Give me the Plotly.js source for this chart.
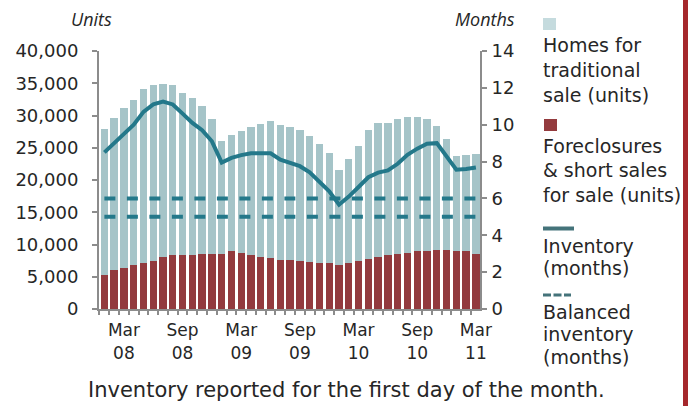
<!DOCTYPE html>
<html>
<head>
<meta charset="utf-8">
<script src="https://cdn.plot.ly/plotly-3.0.1.min.js"></script>
<style>html,body{margin:0;padding:0;background:#fff;}#chart{width:694px;height:406px;}</style>
</head>
<body>
<div id="chart"></div>
<script>
// ---- DATA ----
const months = [
  "Jan 08","Feb 08","Mar 08","Apr 08","May 08","Jun 08","Jul 08","Aug 08","Sep 08","Oct 08","Nov 08","Dec 08",
  "Jan 09","Feb 09","Mar 09","Apr 09","May 09","Jun 09","Jul 09","Aug 09","Sep 09","Oct 09","Nov 09","Dec 09",
  "Jan 10","Feb 10","Mar 10","Apr 10","May 10","Jun 10","Jul 10","Aug 10","Sep 10","Oct 10","Nov 10","Dec 10",
  "Jan 11","Feb 11","Mar 11"
];
// Foreclosures & short sales for sale (units)
const foreclosures = [
  5300,6000,6300,6800,7200,7400,8000,8400,8400,8450,8500,8600,
  8500,8950,8750,8450,8100,7950,7650,7550,7400,7250,7100,7100,
  6800,7150,7400,7700,8000,8350,8600,8750,9000,9000,9200,9150,
  8950,8950,8600
];
// Homes for traditional sale (units)
const traditional = [
  22600,23600,24900,25600,26900,27400,26950,26400,25050,24250,22900,20900,
  17600,18000,18850,19800,20600,21250,20950,20650,20300,19650,18500,17100,
  14700,16150,17800,20000,20900,20500,20850,21000,20700,20400,19100,17250,
  14750,14950,15400
];
// Inventory (months)
const inventory = [
  8.5,9.0,9.5,10.0,10.7,11.1,11.25,11.1,10.6,10.1,9.7,9.1,
  7.95,8.2,8.35,8.45,8.45,8.45,8.1,7.92,7.75,7.42,6.92,6.38,
  5.66,6.1,6.62,7.15,7.4,7.52,7.88,8.37,8.7,8.97,9.0,8.28,
  7.56,7.6,7.68
];
// Balanced inventory band (months)
const balancedLow = 5;
const balancedHigh = 6;
const xTickMonths = ["Mar 08","Sep 08","Mar 09","Sep 09","Mar 10","Sep 10","Mar 11"];
const legendLines = [
  ["Homes for", 45], ["traditional", 70], ["sale (units)", 95],
  ["Foreclosures", 146], ["&amp; short sales", 170], ["for sale (units)", 195],
  ["Inventory", 246], ["(months)", 268],
  ["Balanced", 312], ["inventory", 334], ["(months)", 357]
];

// ---- LAYOUT HELPERS ----
const W = 694, H = 406, L = 99, R = 214, T = 51, B = 97;
const PW = W - L - R, PH = H - T - B;
const px = x => (x - L) / PW;
const py = y => (H - B - y) / PH;

const idx = months.map((m, i) => i);
const FONT = "DejaVu Sans";
const TXT = "#262626";
const AXC = "#8c8c8c";

const traces = [
  {type: "bar", x: idx, y: foreclosures, name: "Foreclosures & short sales for sale (units)",
   marker: {color: "#923a3e"}, hoverinfo: "skip"},
  {type: "bar", x: idx, y: traditional, name: "Homes for traditional sale (units)",
   marker: {color: "#a5c4c8"}, hoverinfo: "skip"},
  {type: "scatter", mode: "lines", x: [idx[0], idx[idx.length-1]], y: [balancedHigh, balancedHigh], yaxis: "y2",
   line: {color: "#23788a", width: 4, dash: "11px,11.5px"}, hoverinfo: "skip"},
  {type: "scatter", mode: "lines", x: [idx[0], idx[idx.length-1]], y: [balancedLow, balancedLow], yaxis: "y2",
   line: {color: "#23788a", width: 4, dash: "11px,11.5px"}, hoverinfo: "skip"},
  {type: "scatter", mode: "lines", x: idx, y: inventory, yaxis: "y2", name: "Inventory (months)",
   line: {color: "#23788a", width: 4}, hoverinfo: "skip"}
];

const tickFont = {family: FONT, size: 18, color: TXT};
const legFont = {family: FONT, size: 19, color: TXT};

const annotations = [
  {xref: "paper", yref: "paper", x: px(114), y: py(19), xanchor: "right", yanchor: "middle",
   text: "Units", showarrow: false, font: {family: "Open Sans", size: 18, style: "italic", color: TXT}},
  {xref: "paper", yref: "paper", x: px(517), y: py(19), xanchor: "right", yanchor: "middle",
   text: "Months", showarrow: false, font: {family: "Open Sans", size: 18, style: "italic", color: TXT}},
  {xref: "paper", yref: "paper", x: px(346), y: py(390), xanchor: "center", yanchor: "middle",
   text: "Inventory reported for the first day of the month.", showarrow: false,
   font: {family: FONT, size: 21, color: TXT}}
];
legendLines.forEach(([t, yc]) => annotations.push({
  xref: "paper", yref: "paper", x: px(541), y: py(yc), xanchor: "left", yanchor: "middle", align: "left",
  text: t, showarrow: false, font: legFont
}));

const layout = {
  width: W, height: H,
  margin: {l: L, r: R, t: T, b: B, pad: 0},
  paper_bgcolor: "#fff", plot_bgcolor: "#fff",
  showlegend: false,
  barmode: "stack",
  bargap: 0.25,
  xaxis: {
    range: [-0.55, 38.42],
    tickmode: "array",
    tickvals: xTickMonths.map(m => months.indexOf(m)),
    ticktext: xTickMonths.map(m => m.replace(" ", "<br>")),
    ticks: "", showgrid: false, zeroline: false,
    showline: true, linecolor: AXC, linewidth: 2,
    tickfont: {family: FONT, size: 17, color: TXT}, ticklabelstandoff: 5,
    minor: {dtick: 1, tick0: 0.5, ticks: "outside", ticklen: 4, tickwidth: 2, tickcolor: AXC, showgrid: false},
    fixedrange: true
  },
  yaxis: {
    range: [0, 40000], dtick: 5000, tickformat: ",d",
    ticks: "outside", ticklen: 5, tickwidth: 2, tickcolor: AXC,
    showline: true, linecolor: AXC, linewidth: 2,
    showgrid: false, zeroline: false,
    tickfont: tickFont, ticklabelstandoff: 10,
    fixedrange: true
  },
  yaxis2: {
    overlaying: "y", side: "right",
    range: [0, 14], dtick: 2,
    ticks: "outside", ticklen: 5, tickwidth: 2, tickcolor: AXC,
    showline: true, linecolor: AXC, linewidth: 2,
    showgrid: false, zeroline: false,
    tickfont: tickFont, ticklabelstandoff: 1,
    fixedrange: true
  },
  annotations: annotations,
  shapes: [
    {type: "rect", xref: "paper", yref: "paper", x0: px(543), x1: px(556), y0: py(30), y1: py(18),
     fillcolor: "#c5dbde", line: {width: 0}},
    {type: "rect", xref: "paper", yref: "paper", x0: px(544), x1: px(557), y0: py(131), y1: py(119),
     fillcolor: "#943b3e", line: {width: 0}},
    {type: "line", xref: "paper", yref: "paper", x0: px(543), x1: px(574), y0: py(228.5), y1: py(228.5),
     line: {color: "#44737a", width: 4}},
    {type: "line", xref: "paper", yref: "paper", x0: px(543), x1: px(571), y0: py(295), y1: py(295),
     line: {color: "#44737a", width: 3, dash: "8px,2.5px"}},
    {type: "rect", xref: "paper", yref: "paper", x0: px(683), x1: px(688), y0: py(406), y1: py(0),
     fillcolor: "#a5282c", line: {width: 0}}
  ]
};

Plotly.newPlot("chart", traces, layout, {displayModeBar: false, staticPlot: true});
</script>
</body>
</html>
